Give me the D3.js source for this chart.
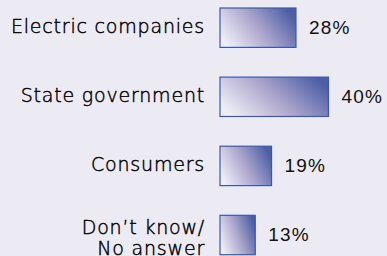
<!DOCTYPE html>
<html>
<head>
<meta charset="utf-8">
<script src="https://cdn.jsdelivr.net/npm/d3@7"></script>
<style>
  html, body { margin: 0; padding: 0; background: #ecebf4; }
  svg { display: block; }
</style>
</head>
<body>
<svg id="chart" width="387" height="256"></svg>
<script>
const categories = ["Electric companies", "State government", "Consumers", "Don\u2019t know/\nNo answer"];
const values = [28, 40, 19, 13];
const valueLabels = ["28%", "40%", "19%", "13%"];

const width = 387, height = 256;

const svg = d3.select('#chart');

svg.append('rect')
    .attr('width', width)
    .attr('height', height)
    .attr('fill', '#ecebf4');

const x = d3.scaleLinear()
    .domain([0, 40])
    .range([220, 328.5]);

const y = d3.scaleBand()
    .domain(categories)
    .range([8, 254.7])
    .paddingInner(0.43)
    .paddingOuter(0);

// bar fill: pale on the left, blue on the right
const defs = svg.append('defs');
const grad = defs.append('linearGradient')
    .attr('id', 'barGrad')
    .attr('x1', '0').attr('y1', '0.7')
    .attr('x2', '1').attr('y2', '0.3');
grad.append('stop').attr('offset', '0%').attr('stop-color', '#eeeef6');
grad.append('stop').attr('offset', '50%').attr('stop-color', '#aca6cc');
grad.append('stop').attr('offset', '100%').attr('stop-color', '#4c5ea6');

const g = svg.append('g');

g.selectAll('.bar')
    .data(values)
    .enter().append('rect')
    .classed('bar', true)
    .attr('x', x(0))
    .attr('y', (d, i) => y(categories[i]))
    .attr('width', d => x(d) - x(0))
    .attr('height', y.bandwidth())
    .attr('fill', 'url(#barGrad)')
    .attr('stroke', '#3a58a8')
    .attr('stroke-width', 1.2);

g.selectAll('.val')
    .data(values)
    .enter().append('text')
    .classed('val', true)
    .attr('x', d => x(d) + 13)
    .attr('y', (d, i) => y(categories[i]) + y.bandwidth() / 2 + 6)
    .attr('font-family', 'Liberation Sans, Arial, sans-serif')
    .attr('font-size', 19)
    .attr('letter-spacing', 1.2)
    .attr('fill', '#111')
    .text((d, i) => valueLabels[i]);

// thin category labels, slightly thickened with a hairline stroke
const labels = g.selectAll('.label')
    .data(categories)
    .enter().append('text')
    .classed('label', true)
    .attr('text-anchor', 'end')
    .attr('font-family', 'DejaVu Sans, sans-serif')
    .attr('font-size', 19)
    .attr('font-weight', 300)
    .attr('letter-spacing', 0.8)
    .attr('fill', '#000')
    .attr('stroke', '#000')
    .attr('stroke-width', 0.45)
    .attr('y', d => {
        const lines = d.split('\n').length;
        return y(d) + y.bandwidth() / 2 + 5 - (lines - 1) * 6;
    });

labels.selectAll('tspan')
    .data(d => d.split('\n'))
    .enter().append('tspan')
    .attr('x', 205)
    .attr('dy', (d, i) => i === 0 ? 0 : 21)
    .text(d => d);
</script>
</body>
</html>
